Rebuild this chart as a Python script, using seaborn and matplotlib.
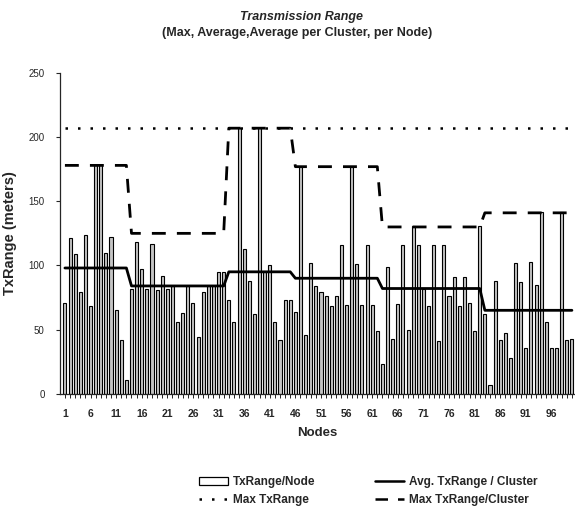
import numpy as np
import pandas as pd
import matplotlib
matplotlib.use("Agg")
import matplotlib.pyplot as plt
import seaborn as sns
from matplotlib.patches import Patch
from matplotlib.lines import Line2D

sns.set_style("ticks")
plt.rcParams['font.family'] = ['Liberation Sans', 'DejaVu Sans']

# transmission range per node
tx_range = [
    71, 121, 109, 79, 124, 68, 178, 178, 110, 122, 65, 42, 11,
    82, 118, 97, 82, 117, 81, 92, 82, 84, 56, 63, 84, 71, 44, 79, 84, 84, 95, 95,
    73, 56, 207, 113, 88, 62, 207, 95, 100, 56, 42, 73, 73,
    64, 177, 46, 102, 84, 79, 76, 68, 76, 116, 69, 177, 101, 69, 116, 69, 49,
    23, 99, 43, 70, 116, 50, 131, 116, 82, 68, 116, 41, 116, 76, 91, 68, 91, 71, 49, 131,
    62, 7, 88, 42, 47, 28, 102, 87, 36, 103, 85, 142, 56, 36, 36, 142, 42, 43,
]
nodes = list(range(1, len(tx_range) + 1))

# clusters: size, average and max range
cluster_sizes = [13, 19, 13, 17, 20, 18]
cluster_avg = [98, 84, 95, 90, 82, 65]
cluster_max = [178, 125, 207, 177, 130, 141]
max_tx = 207

df = pd.DataFrame({
    "node": nodes,
    "tx": tx_range,
    "avg": np.repeat(cluster_avg, cluster_sizes),
    "cmax": np.repeat(cluster_max, cluster_sizes),
})
df["max"] = max_tx

fig = plt.figure(figsize=(5.75, 5.18), dpi=100)
ax = fig.add_axes([0.104, 0.240, 0.896, 0.619])

# thin bars: black outline, grey dotted-looking interior
sns.barplot(data=df, x="node", y="tx", native_scale=True, width=0.6,
            color="#c4c4c4", edgecolor="black", linewidth=0.8, ax=ax)

sns.lineplot(data=df, x="node", y="avg", color="black", linewidth=2.0, ax=ax)
sns.lineplot(data=df, x="node", y="cmax", color="black", linewidth=2.0, ax=ax).lines[-1].set_dashes([5, 4])
sns.lineplot(data=df, x="node", y="max", color="black", linewidth=1.8, ax=ax).lines[-1].set_dashes([1, 4])

ax.set_xlim(0.0, 100.6)
ax.set_ylim(0, 250)
ax.set_yticks(range(0, 251, 50))
ax.set_xticks(nodes)
ax.set_xticklabels([str(n) if (n - 1) % 5 == 0 else "" for n in nodes],
                   fontsize=7.5, fontweight="bold")
ax.tick_params(axis="x", length=3, width=0.7, pad=8)
ax.tick_params(axis="y", length=3, width=0.8, labelsize=7, pad=8)
sns.despine(ax=ax)
ax.spines["left"].set_linewidth(0.9)
ax.spines["bottom"].set_linewidth(0.9)

ax.set_xlabel("Nodes", fontsize=9.5, fontweight="bold", labelpad=6)
ax.set_ylabel("TxRange (meters)", fontsize=10.5, fontweight="bold", labelpad=8)

fig.text(0.524, 0.968, "Transmission Range", ha="center", va="center",
         fontsize=9, fontweight="bold", style="italic")
fig.text(0.517, 0.936, "(Max, Average,Average per Cluster, per Node)", ha="center",
         va="center", fontsize=9, fontweight="bold")

handles = [
    Patch(facecolor="white", edgecolor="black", linewidth=0.9),
    Line2D([], [], color="black", linewidth=1.8, dashes=[1, 4]),
    Line2D([], [], color="black", linewidth=1.8),
    Line2D([], [], color="black", linewidth=1.8, dashes=[5, 4]),
]
labels = ["TxRange/Node", "Max TxRange", "Avg. TxRange / Cluster", "Max TxRange/Cluster"]
fig.legend(handles, labels, ncol=2, loc="center", bbox_to_anchor=(0.64, 0.052),
           frameon=False, prop={"weight": "bold", "size": 8.5},
           columnspacing=5.0, handlelength=2.5, handletextpad=0.4, labelspacing=0.5)

fig.savefig("out.png", dpi=100)
